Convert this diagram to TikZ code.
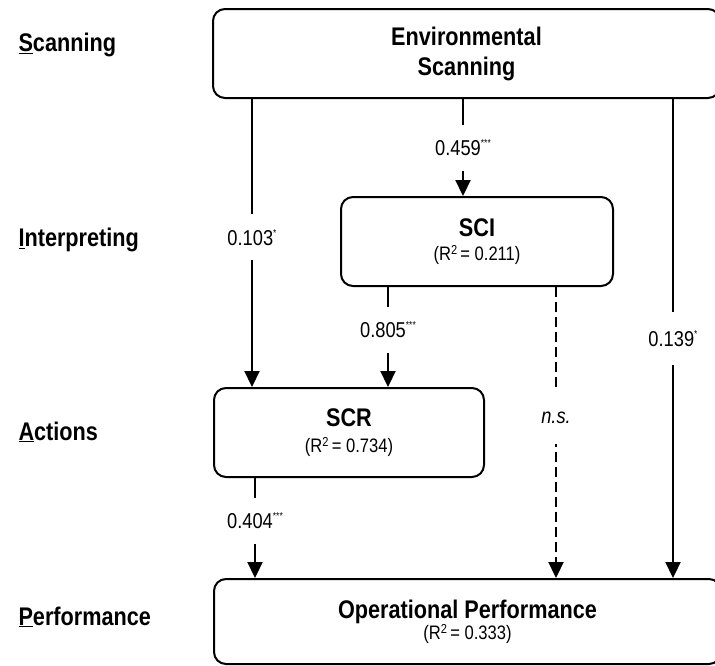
\documentclass[tikz,border=0pt]{standalone}
\usepackage{fontspec}
\setmainfont{Liberation Sans}[FakeStretch=0.85]
\usetikzlibrary{positioning,arrows.meta}
\tikzset{
  stagebox/.style={draw, line width=2pt, rounded corners=12pt, align=center,
    inner sep=0pt, fill=white, anchor=north west,
    font=\fontsize{25.5}{30}\selectfont\bfseries},
  stagelabel/.style={anchor=west, font=\fontsize{25.5}{30}\selectfont\bfseries},
  patharrow/.style={-{Triangle[length=16pt,width=15pt]}, line width=2.2pt},
  pathlabel/.style={fill=white, inner xsep=1pt, inner ysep=0pt, minimum height=46pt,
    font=\fontsize{21.5}{22}\selectfont},
}
\newcommand{\rsq}[1]{{\mdseries\fontsize{19.5}{24}\selectfont(R\raisebox{0.6ex}{\fontsize{13}{13}\selectfont 2}\,= #1)}}
\newcommand{\sig}[1]{\raisebox{0.8ex}{\fontsize{10}{10}\selectfont #1}}

\begin{document}
\begin{tikzpicture}[x=1pt, y=-1pt]
  \useasboundingbox (0,0) rectangle (715,665);
  \clip (0,0) rectangle (715,665);
  % stages
  \node[stagelabel] (lscan) at (15,45) {\underline{S}canning};
  \node[stagelabel] (linterp) at (15,240) {\underline{I}nterpreting};
  \node[stagelabel] (lact) at (15,432) {\underline{A}ctions};
  \node[stagelabel] (lperf) at (15,617) {\underline{P}erformance};
  % boxes
  \node[stagebox, minimum width=507pt, minimum height=89pt] (env) at (212,8)
    {Environmental\\Scanning};
  \node[stagebox, minimum width=272pt, minimum height=89pt] (sci) at (340,196)
    {SCI\\[-6pt]\rsq{0.211}};
  \node[stagebox, minimum width=270pt, minimum height=89pt] (scr) at (213,387)
    {SCR\\[-4pt]\rsq{0.734}};
  \node[stagebox, minimum width=507pt, minimum height=85pt] (perf) at (213,578)
    {Operational Performance\\[-9pt]\rsq{0.333}};
  % columns of the paths
  \coordinate (xa) at (252,0);
  \coordinate (xb) at (255,0);
  \coordinate (xc) at (388,0);
  \coordinate (xd) at (463,0);
  \coordinate (xe) at (556,0);
  \coordinate (xf) at (673,0);
  % paths
  \draw[patharrow] (env.south -| xd) -- node[pathlabel]{0.459\sig{***}} (sci.north -| xd);
  \draw[patharrow] (env.south -| xa) -- node[pathlabel, pos=0.48]{0.103\sig{*}} (scr.north -| xa);
  \draw[patharrow] (sci.south -| xc) -- node[pathlabel, pos=0.43]{0.805\sig{***}} (scr.north -| xc);
  \draw[patharrow, dash pattern=on 10pt off 5pt] (sci.south -| xe) -- node[pathlabel, pos=0.45, minimum height=53pt]{\itshape n.s.} (perf.north -| xe);
  \draw[patharrow] (env.south -| xf) -- node[pathlabel, pos=0.5, minimum height=53pt]{0.139\sig{*}} (perf.north -| xf);
  \draw[patharrow] (scr.south -| xb) -- node[pathlabel, pos=0.43]{0.404\sig{***}} (perf.north -| xb);
\end{tikzpicture}
\end{document}
